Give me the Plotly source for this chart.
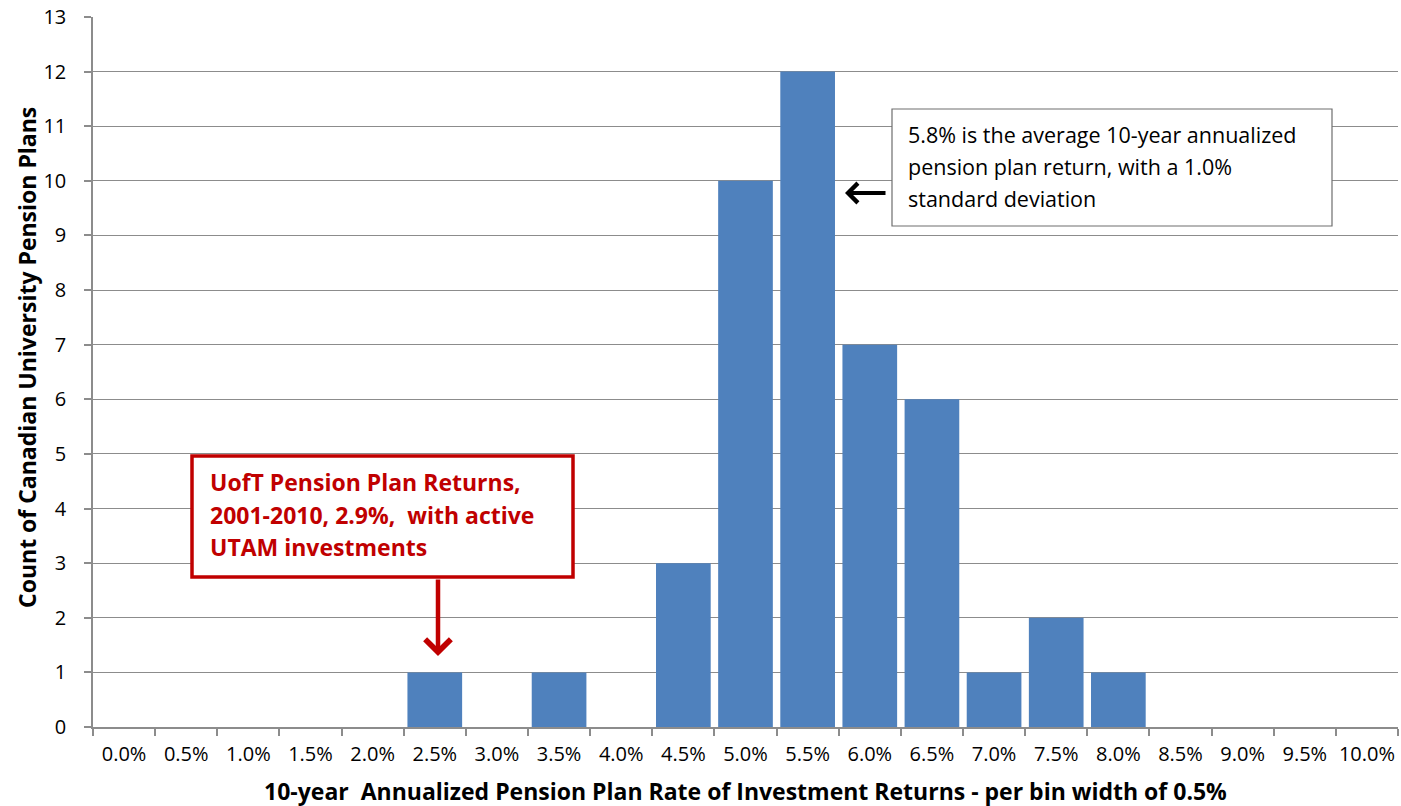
import plotly.graph_objects as go

categories = ["0.0%", "0.5%", "1.0%", "1.5%", "2.0%", "2.5%", "3.0%", "3.5%", "4.0%", "4.5%",
              "5.0%", "5.5%", "6.0%", "6.5%", "7.0%", "7.5%", "8.0%", "8.5%", "9.0%", "9.5%", "10.0%"]
counts = [0, 0, 0, 0, 0, 1, 0, 1, 0, 3, 10, 12, 7, 6, 1, 2, 1, 0, 0, 0, 0]

x_title = "10-year\u00a0\u00a0Annualized Pension Plan Rate of Investment Returns - per bin width of 0.5%"
y_title = "Count of Canadian University Pension Plans"
red_lines = ["UofT Pension Plan Returns,", "2001-2010, 2.9%,\u00a0\u00a0with active", "UTAM investments"]
black_lines = ["5.8% is the average 10-year annualized", "pension plan return, with a 1.0%", "standard deviation"]

FONT = "'Open Sans', Lato, sans-serif"
RED = "#C00000"
GRID = "#8C8C8C"

fig = go.Figure()
fig.add_trace(go.Bar(x=categories, y=counts, marker=dict(color="#4F81BD", line=dict(width=0)),
                     hoverinfo="x+y"))

# plot area geometry in pixels
L, T, W, H = 93, 17, 1305, 710
def px(xp):
    return (xp - L) / W
def py(yp):
    return (T + H - yp) / H

shapes = [
    dict(type="rect", xref="paper", yref="paper", x0=px(192), x1=px(573), y0=py(577), y1=py(456),
         line=dict(color=RED, width=3.5), fillcolor="white", layer="above"),
    dict(type="rect", xref="paper", yref="paper", x0=px(892), x1=px(1332), y0=py(226), y1=py(109),
         line=dict(color="#6E6E6E", width=1.2), fillcolor="white", layer="above"),
]

annotations = []
for i, t in enumerate(red_lines):
    annotations.append(dict(xref="paper", yref="paper", x=px(208), y=py(482 + 32.5 * i), text=t,
                            showarrow=False, xanchor="left", yanchor="middle",
                            font=dict(family=FONT, size=23, color=RED, weight="bold")))
for i, t in enumerate(black_lines):
    annotations.append(dict(xref="paper", yref="paper", x=px(906), y=py(134 + 32 * i), text=t,
                            showarrow=False, xanchor="left", yanchor="middle",
                            font=dict(family=FONT, size=21.5, color="black")))
# arrows
annotations.append(dict(xref="paper", yref="paper", x=px(438), y=py(656), ax=0, ay=-78, text="",
                        showarrow=True, arrowhead=4, arrowsize=1.1, arrowwidth=4.5, arrowcolor=RED))
annotations.append(dict(xref="paper", yref="paper", x=px(845), y=py(193), ax=42, ay=0, text="",
                        showarrow=True, arrowhead=4, arrowsize=0.95, arrowwidth=4, arrowcolor="black"))
# axis titles
annotations.append(dict(xref="paper", yref="paper", x=0.5, y=py(791), text=x_title, showarrow=False,
                        xanchor="center", yanchor="middle",
                        font=dict(family=FONT, size=23, color="black", weight="bold")))
annotations.append(dict(xref="paper", yref="paper", x=px(27), y=py(358), text=y_title, showarrow=False,
                        xanchor="center", yanchor="middle", textangle=-90,
                        font=dict(family=FONT, size=23, color="black", weight="bold")))

fig.update_layout(
    width=1401, height=806,
    margin=dict(l=L, r=1401 - L - W, t=T, b=806 - T - H, autoexpand=False),
    paper_bgcolor="white", plot_bgcolor="white",
    bargap=0.12, showlegend=False,
    font=dict(family=FONT, size=20, color="black"),
    shapes=shapes, annotations=annotations,
    xaxis=dict(type="category", categoryorder="array", categoryarray=categories,
               showline=True, linecolor=GRID, linewidth=1.5, automargin=False, tickangle=0,
               ticks="outside", tickson="boundaries", ticklen=7, tickcolor=GRID, tickwidth=1.5,
               showgrid=False, ticklabelstandoff=8, tickfont=dict(family=FONT, size=20)),
    yaxis=dict(range=[0, 13], dtick=1, tick0=0, showline=True, linecolor=GRID, linewidth=1.5,
               automargin=False,
               ticks="outside", ticklen=7, tickcolor=GRID, tickwidth=1.5,
               showgrid=True, gridcolor=GRID, gridwidth=1, zeroline=False,
               ticklabelstandoff=14, tickfont=dict(family=FONT, size=20)),
)

fig.write_html("out.html")
